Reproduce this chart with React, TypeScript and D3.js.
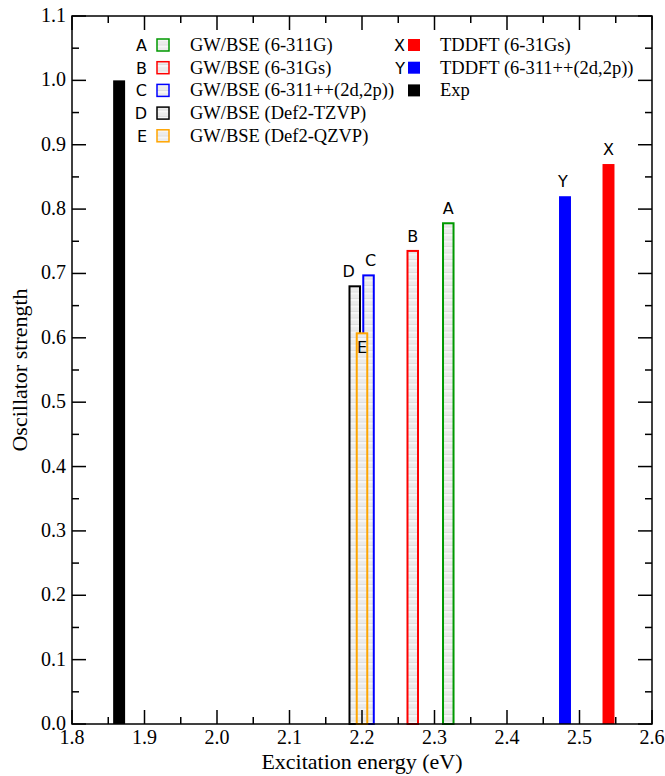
import * as d3 from 'd3';
import { useEffect, useRef } from 'react';

// GW/BSE bars (outlined) and TDDFT / experiment bars (filled)
const labels = ['A', 'B', 'C', 'D', 'E', 'X', 'Y', 'Exp'];
const energies = [2.319, 2.27, 2.209, 2.19, 2.2, 2.54, 2.48, 1.865];
const strengths = [0.778, 0.735, 0.697, 0.68, 0.607, 0.87, 0.82, 1.0];
const colors = ['#009900', '#ff0000', '#0000ff', '#000000', '#ffa500', '#ff0000', '#0000ff', '#000000'];
const filled = [false, false, false, false, false, true, true, true];
const legendNames = [
  'GW/BSE (6-311G)',
  'GW/BSE (6-31Gs)',
  'GW/BSE (6-311++(2d,2p))',
  'GW/BSE (Def2-TZVP)',
  'GW/BSE (Def2-QZVP)',
  'TDDFT (6-31Gs)',
  'TDDFT (6-311++(2d,2p))',
  'Exp',
];
const xTicks = [1.8, 1.9, 2.0, 2.1, 2.2, 2.3, 2.4, 2.5, 2.6];
const yTicks = [0, 0.1, 0.2, 0.3, 0.4, 0.5, 0.6, 0.7, 0.8, 0.9, 1.0, 1.1];

export default function App() {
  const svgRef = useRef(null);

  useEffect(() => {
    drawChart(svgRef.current);
  }, [svgRef]);

  return (
    <div style={{ position: 'absolute', left: 0, top: 0 }}>
      <svg ref={svgRef} style={{ display: 'block' }}></svg>
    </div>
  );
}

function drawChart(el) {
  const w = 665;
  const h = 776;
  const left = 72, right = 652, top = 16, bottom = 724;
  const fillW = 0.0165;
  const lineW = 0.0145;

  const svg = d3.select(el).attr('width', w).attr('height', h);
  svg.selectAll('*').remove();

  const x = d3.scaleLinear().domain([1.8, 2.6]).range([left, right]);
  const y = d3.scaleLinear().domain([0, 1.1]).range([bottom, top]);

  const defs = svg.append('defs');
  const pat = defs.append('pattern')
    .attr('id', 'hatch')
    .attr('patternUnits', 'userSpaceOnUse')
    .attr('width', 6).attr('height', 6.5);
  pat.append('rect').attr('width', 6).attr('height', 6.5).attr('fill', '#ebebeb');
  pat.append('rect').attr('width', 6).attr('height', 2).attr('fill', '#f6f6f6');
  pat.append('rect').attr('y', 5.5).attr('width', 6).attr('height', 1).attr('fill', '#dedede');

  const data = labels.map((l, i) => ({
    l, e: energies[i], s: strengths[i], c: colors[i], f: filled[i], name: legendNames[i],
  }));

  const bw = d => (d.f ? fillW : lineW);

  // bars
  svg.append('g').selectAll('rect')
    .data(data)
    .enter()
    .append('rect')
    .attr('x', d => x(d.e - bw(d) / 2))
    .attr('y', d => y(d.s))
    .attr('width', d => x(d.e + bw(d) / 2) - x(d.e - bw(d) / 2))
    .attr('height', d => y(0) - y(d.s))
    .attr('fill', d => (d.f ? d.c : 'url(#hatch)'))
    .attr('stroke', d => (d.f ? 'none' : d.c))
    .attr('stroke-width', 2);

  // letters above bars
  const offs = { A: [0, -9], B: [0, -9], C: [2, -9], D: [-6, -9], E: [0, 20], X: [0, -9], Y: [-2, -9] };
  svg.append('g').selectAll('text')
    .data(data.filter(d => d.l !== 'Exp'))
    .enter()
    .append('text')
    .attr('x', d => x(d.e) + offs[d.l][0])
    .attr('y', d => y(d.s) + offs[d.l][1])
    .attr('text-anchor', 'middle')
    .attr('font-family', 'DejaVu Sans')
    .attr('font-size', 16)
    .text(d => d.l);

  // frame
  svg.append('rect')
    .attr('x', left).attr('y', top)
    .attr('width', right - left).attr('height', bottom - top)
    .attr('fill', 'none').attr('stroke', '#000').attr('stroke-width', 1.5);

  // ticks
  const tk = svg.append('g').attr('stroke', '#000').attr('stroke-width', 1.5);
  const xMinor = d3.range(8).map(i => 1.85 + i * 0.1);
  const yMinor = d3.range(11).map(i => 0.05 + i * 0.1);
  xTicks.forEach(t => {
    tk.append('line').attr('x1', x(t)).attr('x2', x(t)).attr('y1', bottom).attr('y2', bottom - 14);
    tk.append('line').attr('x1', x(t)).attr('x2', x(t)).attr('y1', top).attr('y2', top + 14);
  });
  xMinor.forEach(t => {
    tk.append('line').attr('x1', x(t)).attr('x2', x(t)).attr('y1', bottom).attr('y2', bottom - 7);
    tk.append('line').attr('x1', x(t)).attr('x2', x(t)).attr('y1', top).attr('y2', top + 7);
  });
  yTicks.forEach(t => {
    tk.append('line').attr('x1', left).attr('x2', left + 14).attr('y1', y(t)).attr('y2', y(t));
    tk.append('line').attr('x1', right).attr('x2', right - 14).attr('y1', y(t)).attr('y2', y(t));
  });
  yMinor.forEach(t => {
    tk.append('line').attr('x1', left).attr('x2', left + 7).attr('y1', y(t)).attr('y2', y(t));
    tk.append('line').attr('x1', right).attr('x2', right - 7).attr('y1', y(t)).attr('y2', y(t));
  });

  // tick labels
  const font = 'Liberation Serif, Times New Roman, serif';
  svg.append('g').selectAll('text')
    .data(xTicks).enter().append('text')
    .attr('x', d => x(d)).attr('y', bottom + 20)
    .attr('text-anchor', 'middle')
    .attr('font-family', font).attr('font-size', 20)
    .text(d => d.toFixed(1));
  svg.append('g').selectAll('text')
    .data(yTicks).enter().append('text')
    .attr('x', left - 6).attr('y', d => y(d) + 6)
    .attr('text-anchor', 'end')
    .attr('font-family', font).attr('font-size', 20)
    .text(d => d.toFixed(1));

  // axis titles
  svg.append('text')
    .attr('x', (left + right) / 2).attr('y', 769)
    .attr('text-anchor', 'middle')
    .attr('font-family', font).attr('font-size', 22)
    .text('Excitation energy (eV)');
  svg.append('text')
    .attr('transform', `translate(27,${(top + bottom) / 2}) rotate(-90)`)
    .attr('text-anchor', 'middle')
    .attr('font-family', font).attr('font-size', 22)
    .text('Oscillator strength');

  // legend
  const lg = svg.append('g');
  const cols = [
    { sq: 163, letter: 147, text: 190 },
    { sq: 414, letter: 405, text: 440 },
  ];
  data.forEach((d, i) => {
    const c = cols[i < 5 ? 0 : 1];
    const row = i < 5 ? i : i - 5;
    const cy = 45 + row * 22.7;
    lg.append('text')
      .attr('x', c.letter).attr('y', cy + 6)
      .attr('text-anchor', 'end')
      .attr('font-family', 'DejaVu Sans').attr('font-size', 16)
      .text(d.l === 'Exp' ? '' : d.l);
    lg.append('rect')
      .attr('x', c.sq - 6).attr('y', cy - 6)
      .attr('width', 12).attr('height', 12)
      .attr('fill', d.f ? d.c : 'url(#hatch)')
      .attr('stroke', d.f ? 'none' : d.c)
      .attr('stroke-width', 1.5);
    lg.append('text')
      .attr('x', c.text).attr('y', cy + 6)
      .attr('font-family', font).attr('font-size', 18.5)
      .text(d.name);
  });
}
